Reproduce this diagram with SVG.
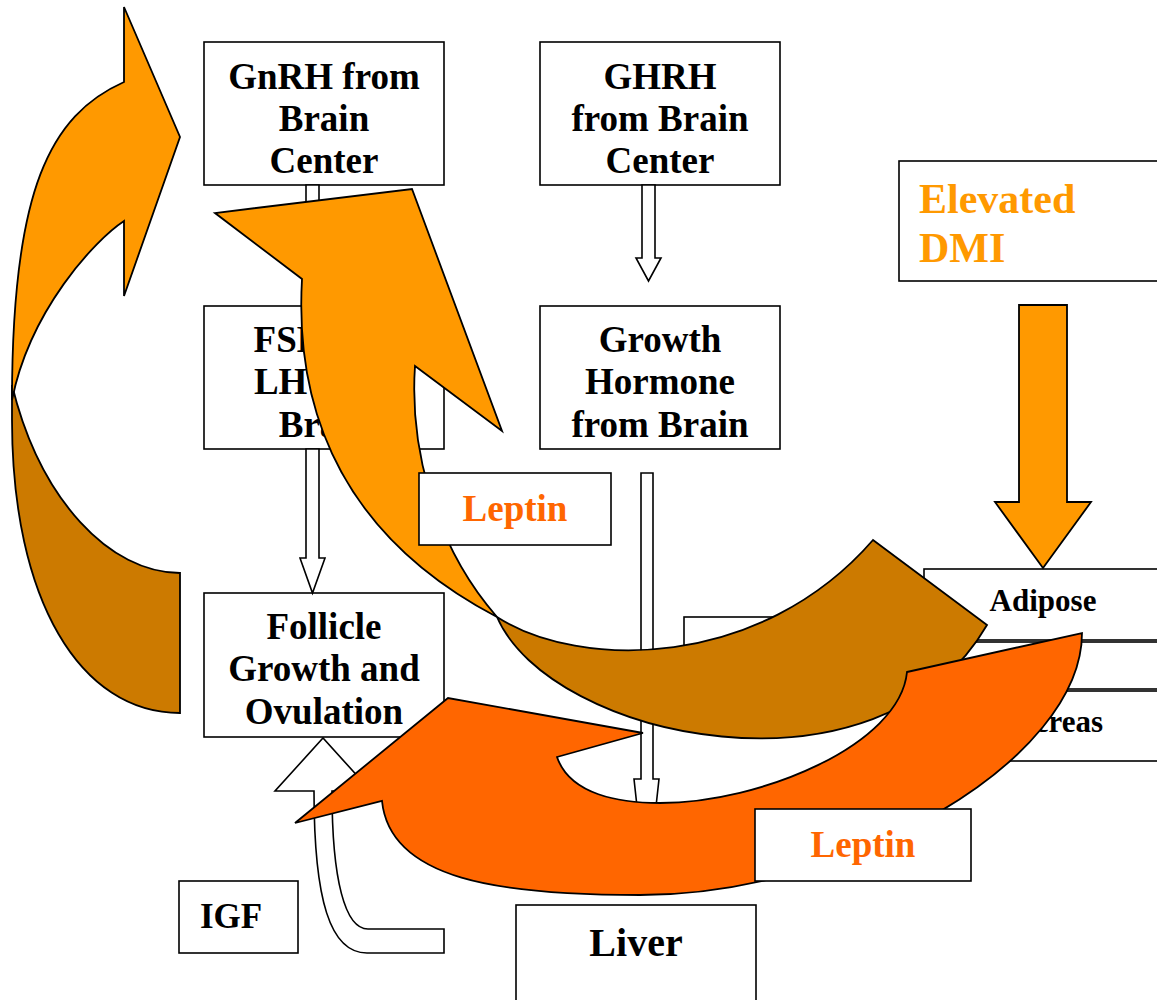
<svg xmlns="http://www.w3.org/2000/svg" width="1157" height="1000" viewBox="0 0 1157 1000">
<style>
.box{fill:#fff;stroke:#000;stroke-width:1.6}
.t{font-family:"Liberation Serif","Times New Roman",serif;font-weight:bold;font-size:37px;fill:#000;text-anchor:middle}
.ts{font-size:31px}
.lep{fill:#FF6600}
.dmi{fill:#FF9900;font-size:42px;text-anchor:start}
.wa{fill:#fff;stroke:#000;stroke-width:1.6;stroke-linejoin:miter}
.or{fill:#FF9900;stroke:#000;stroke-width:1.8;stroke-linejoin:miter}
.br{fill:#CC7A00;stroke:#000;stroke-width:1.8;stroke-linejoin:miter}
.rd{fill:#FF6600;stroke:#000;stroke-width:1.8;stroke-linejoin:miter}
</style>
<rect width="1157" height="1000" fill="#fff"/>
<g id="nodes">
<g id="gnrh"><rect class="box" x="204" y="42" width="240" height="143"/>
<text class="t" x="324" y="89">GnRH from</text><text class="t" x="324" y="131">Brain</text><text class="t" x="324" y="173">Center</text></g>
<g id="ghrh"><rect class="box" x="540" y="42" width="240" height="143"/>
<text class="t" x="660" y="89">GHRH</text><text class="t" x="660" y="131">from Brain</text><text class="t" x="660" y="173">Center</text></g>
<g id="fsh"><rect class="box" x="204" y="306" width="240" height="143"/>
<text class="t" x="324" y="352">FSH and</text><text class="t" x="324" y="394">LH from</text><text class="t" x="324" y="437">Brain</text></g>
<g id="gh"><rect class="box" x="540" y="306" width="240" height="143"/>
<text class="t" x="660" y="352">Growth</text><text class="t" x="660" y="394">Hormone</text><text class="t" x="660" y="437">from Brain</text></g>
<g id="follicle"><rect class="box" x="204" y="593" width="240" height="144"/>
<text class="t" x="324" y="639">Follicle</text><text class="t" x="324" y="681">Growth and</text><text class="t" x="324" y="724">Ovulation</text></g>
<g id="igf"><rect class="box" x="179" y="881" width="119" height="72"/>
<text class="t" x="200" y="928" style="text-anchor:start;font-size:35px">IGF</text></g>
<g id="liver"><rect class="box" x="516" y="905" width="240" height="110"/>
<text class="t" x="636" y="956" style="font-size:40px">Liver</text></g>
<g id="dmi"><rect class="box" x="899" y="161" width="270" height="120"/>
<text class="t dmi" x="919" y="213">Elevated</text><text class="t dmi" x="919" y="262">DMI</text></g>
<g id="hidden-box"><rect class="box" x="684" y="617" width="200" height="80"/></g>
<g id="adipose"><rect class="box" x="924" y="569" width="240" height="71"/>
<text class="t ts" x="1043" y="611">Adipose</text></g>
<g id="middle-box"><rect class="box" x="924" y="642" width="240" height="47"/></g>
<g id="pancreas"><rect class="box" x="924" y="691" width="240" height="70"/>
<text class="t ts" x="1043" y="732">Pancreas</text></g>
</g>
<g id="connectors">
<path class="wa" d="M306,185 L306,271 L300,271 L312.5,306 L325,271 L319,271 L319,185 Z"/>
<path class="wa" d="M306,449 L306,558 L300,558 L312.5,593 L325,558 L319,558 L319,449 Z"/>
<path class="wa" d="M642,185 L642,258 L636,258 L648.5,281 L661,258 L655,258 L655,185 Z"/>
<path class="wa" d="M641,473 L641,779 L634,779 L646.5,893 L659,779 L653,779 L653,473 Z"/>
<path class="wa" d="M444,929 L368,929 C345,929 332,880 332,791 L371,791 L323,738 L275,791 L314,791 C314,900 330,953 367,953 L444,953 Z"/>
<path class="or" d="M1019,305 L1019,502 L995,502 L1043,568 L1091,502 L1067,502 L1067,305 Z"/>
<path class="br" d="M180,713 C80,713 12,600 12,420 L12,385 C40,500 110,573 180,573 Z"/>
<path class="or" d="M124,221 L124,296 L180,137 L124,7 L124,82 C50,115 12,190 12,400 C30,310 95,240 124,221 Z"/>
<path class="br" d="M497,617 C580,670 760,670 873,540 L987,625 C880,810 550,740 497,617 Z"/>
<path class="or" d="M302,279 C294,420 350,540 497,617 C430,540 410,440 415,366 L502,431 L412,189 L215,213 Z"/>
<path class="rd" d="M907,672 L1082,633 C1082,760 850,895 640,895 C500,895 390,880 382,801 L295,823 L448,698 L643,733 L557,757 C570,795 620,803 660,803 C760,803 900,745 907,672 Z"/>
</g>
<g id="leptin1"><rect class="box" x="419" y="473" width="192" height="72"/>
<text class="t lep" x="515" y="521">Leptin</text></g>
<g id="leptin2"><rect class="box" x="755" y="809" width="216" height="72"/>
<text class="t lep" x="863" y="857">Leptin</text></g>
</svg>
